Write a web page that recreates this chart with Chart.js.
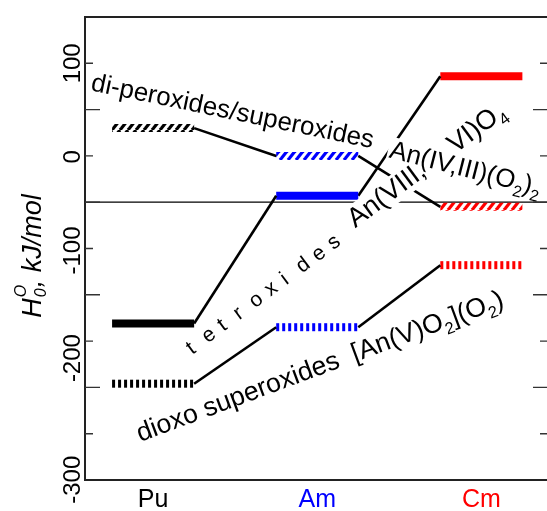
<!DOCTYPE html>
<html>
<head>
<meta charset="utf-8">
<script src="https://cdn.jsdelivr.net/npm/chart.js@4.4.0/dist/chart.umd.min.js"></script>
<style>
  html, body { margin: 0; padding: 0; background: #fff; }
</style>
</head>
<body>
<canvas id="levels" width="547" height="511"></canvas>
<script>
// ----- values (kJ/mol) -----
const elements = ['Pu', 'Am', 'Cm'];
const elementColors = ['#000000', '#0000ff', '#ff0000'];
const diPeroxides = [30, 0, -55];
const tetroxides = [-181, -43, 86];
const dioxoSuperoxides = [-246, -185, -118];
const yTickLabels = [100, 0, -100, -200, -300];
const referenceLevel = -50;

const FONT = '"Liberation Sans", Arial, Helvetica, sans-serif';
const HALF = 0.25; // half width of a level bar, in category units
// the original labels drift downwards from their ticks (px)
const labelNudge = [0, 1, 2, 17, 46];

// diagonal hatch used for the di-peroxide levels
function hatch(color) {
  const c = document.createElement('canvas');
  c.width = 8; c.height = 10;
  const g = c.getContext('2d');
  g.strokeStyle = color;
  g.lineWidth = 3.2;
  for (let k = -1; k <= 1; k++) {
    g.beginPath();
    g.moveTo(k * 8, 10);
    g.lineTo(k * 8 + 8, 0);
    g.stroke();
  }
  return g.createPattern(c, 'repeat');
}

const families = [
  { values: diPeroxides, style: 'hatch', width: 8 },
  { values: tetroxides, style: 'solid', width: 8 },
  { values: dioxoSuperoxides, style: 'dash', width: 8 },
];

const datasets = [];
families.forEach(f => {
  f.values.forEach((v, i) => {
    datasets.push({
      data: [{ x: i - HALF, y: v }, { x: i + HALF, y: v }],
      borderColor: f.style === 'hatch' ? hatch(elementColors[i]) : elementColors[i],
      borderDash: f.style === 'dash' ? [3, 3] : [],
      borderWidth: f.width,
      borderCapStyle: 'butt',
      pointRadius: 0,
    });
    if (i < f.values.length - 1) {
      datasets.push({
        data: [{ x: i + HALF, y: v }, { x: i + 1 - HALF, y: f.values[i + 1] }],
        borderColor: '#000',
        borderWidth: 2.6,
        borderCapStyle: 'butt',
        pointRadius: 0,
      });
    }
  });
});

// rotated labels along the lines: from/to are baseline ends in data units.
// with a fixed size, the slack goes into the part marked 'gap'
const notes = [
  { parts: [['di-peroxides/superoxides']], from: [-0.384, 70.9], to: [1.335, 8.3] },
  { parts: [['An(VIII,'], [' ', 'gap'], ['VI)O'], ['4', 'sub']], size: 27, from: [1.232, -78], to: [2.159, 44], knockout: true },
  { parts: [['An(IV,III)(O'], ['2', 'sub'], [')'], ['2', 'sub']], from: [1.433, -1.4], to: [2.35, -43], knockout: true },
  { spaced: 'tetroxides', size: 21, from: [0.238, -215.1], to: [1.098, -101.9] },
  { parts: [['dioxo superoxides  [An(V)O'], ['2', 'sub'], ['](O'], ['2', 'sub'], [')']], from: [-0.079, -308.9], to: [2.146, -162.2] },
];

function partsWidth(ctx, parts, size) {
  let w = 0;
  parts.forEach(([t, k]) => {
    ctx.font = (k === 'sub' ? size * 0.62 : size) + 'px ' + FONT;
    w += ctx.measureText(t).width;
  });
  return w;
}

function drawParts(ctx, parts, size, slack) {
  let x = 0;
  parts.forEach(([t, k]) => {
    const s = k === 'sub' ? size * 0.62 : size;
    ctx.font = s + 'px ' + FONT;
    const dy = k === 'sub' ? size * 0.25 : 0;
    ctx.fillText(t, x, dy);
    x += ctx.measureText(t).width + (k === 'gap' ? slack : 0);
  });
}

function layoutNote(ctx, p) {
  const n = p.n;
  if (n.size) {
    const w = partsWidth(ctx, n.parts, n.size);
    return { size: n.size, slack: Math.max(0, p.len - w) };
  }
  return { size: 24 * p.len / partsWidth(ctx, n.parts, 24), slack: 0 };
}

const decor = {
  id: 'decor',
  beforeDatasetsDraw(chart) {
    const { ctx, chartArea: a, scales: { y } } = chart;
    const py = y.getPixelForValue(referenceLevel);
    ctx.save();
    ctx.strokeStyle = '#000';
    ctx.lineWidth = 1.2;
    ctx.beginPath();
    ctx.moveTo(a.left, py);
    ctx.lineTo(a.right, py);
    ctx.stroke();
    ctx.restore();
  },
  afterDatasetsDraw(chart) {
    const { ctx, chartArea: a, scales: { x, y } } = chart;
    ctx.save();
    ctx.fillStyle = '#000';
    ctx.textBaseline = 'alphabetic';
    ctx.textAlign = 'left';

    const placed = notes.map(n => {
      const x0 = x.getPixelForValue(n.from[0]), y0 = y.getPixelForValue(n.from[1]);
      const x1 = x.getPixelForValue(n.to[0]), y1 = y.getPixelForValue(n.to[1]);
      return { n, x0, y0, len: Math.hypot(x1 - x0, y1 - y0), ang: Math.atan2(y1 - y0, x1 - x0) };
    });

    // white boxes that cut the lines under the formula labels
    placed.forEach(p => {
      if (!p.n.knockout) return;
      const { size } = layoutNote(ctx, p);
      ctx.save();
      ctx.translate(p.x0, p.y0);
      ctx.rotate(p.ang);
      ctx.fillStyle = '#fff';
      ctx.fillRect(-2, -size * 0.8, p.len + 4, size * 1.0);
      ctx.restore();
    });

    placed.forEach(p => {
      ctx.save();
      ctx.translate(p.x0, p.y0);
      ctx.rotate(p.ang);
      ctx.fillStyle = '#000';
      if (p.n.spaced) {
        const chars = p.n.spaced.split('');
        ctx.font = p.n.size + 'px ' + FONT;
        const step = p.len / (chars.length - 1);
        chars.forEach((c, i) => ctx.fillText(c, i * step, 0));
      } else {
        const { size, slack } = layoutNote(ctx, p);
        drawParts(ctx, p.n.parts, size, slack);
      }
      ctx.restore();
    });

    // frame (right spine falls off the canvas)
    ctx.strokeStyle = '#222';
    ctx.lineWidth = 2;
    ctx.beginPath();
    ctx.moveTo(a.right + 1, a.top);
    ctx.lineTo(a.left, a.top);
    ctx.lineTo(a.left, a.bottom);
    ctx.lineTo(a.right + 1, a.bottom);
    ctx.stroke();

    // inward ticks on both sides, long at the 50s, short at the 100s
    ctx.strokeStyle = '#333';
    ctx.lineWidth = 1.4;
    y.ticks.forEach(t => {
      if (t.value <= y.min || t.value >= y.max) return;
      const py = y.getPixelForValue(t.value);
      const major = yTickLabels.includes(t.value);
      const lenL = major ? 8 : 15, lenR = major ? 7 : 14;
      ctx.beginPath();
      ctx.moveTo(a.left, py); ctx.lineTo(a.left + lenL, py);
      ctx.moveTo(a.right, py); ctx.lineTo(a.right - lenR, py);
      ctx.stroke();
    });

    // y tick labels, rotated
    ctx.fillStyle = '#000';
    ctx.font = '24px ' + FONT;
    ctx.textAlign = 'center';
    ctx.textBaseline = 'middle';
    yTickLabels.forEach((v, i) => {
      ctx.save();
      ctx.translate(72, y.getPixelForValue(v) + labelNudge[i]);
      ctx.rotate(-Math.PI / 2);
      ctx.fillText(String(v), 0, 1);
      ctx.restore();
    });

    // axis title: H with stacked o / 0, then units
    ctx.save();
    ctx.translate(41, 0);
    ctx.rotate(-Math.PI / 2);
    ctx.textAlign = 'left';
    ctx.textBaseline = 'alphabetic';
    const it = s => 'italic ' + s + 'px ' + FONT;
    ctx.font = it(27);
    const wH = ctx.measureText('H').width;
    ctx.font = it(16);
    const wS = ctx.measureText('0').width;
    ctx.font = it(27);
    const wU = ctx.measureText(', kJ/mol').width;
    const total = wH + wS + 2 + wU;
    let tx = -(256 + total / 2);
    ctx.font = it(27);
    ctx.fillText('H', tx, 0);
    tx += wH + 1;
    ctx.font = it(16);
    ctx.fillText('O', tx, -15);
    ctx.fillText('0', tx, 5);
    tx += wS + 1;
    ctx.font = it(27);
    ctx.fillText(', kJ/mol', tx, 0);
    ctx.restore();

    ctx.restore();
  }
};

new Chart(document.getElementById('levels'), {
  type: 'line',
  data: { datasets },
  options: {
    responsive: false,
    animation: false,
    devicePixelRatio: 1,
    layout: { padding: { top: 17, right: 0, left: 0, bottom: 0 } },
    plugins: { legend: { display: false }, tooltip: { enabled: false } },
    scales: {
      x: {
        type: 'linear',
        min: -0.415,
        max: 2.4,
        afterBuildTicks: s => { s.ticks = elements.map((_, i) => ({ value: i })); },
        afterFit: s => { s.height = 31; },
        grid: { display: false },
        border: { display: false },
        ticks: {
          autoSkip: false,
          maxRotation: 0,
          padding: -3,
          font: { size: 25, family: FONT },
          color: c => elementColors[c.index],
          callback: v => elements[v],
        },
      },
      y: {
        type: 'linear',
        min: -350,
        max: 150,
        afterFit: s => { s.width = 85; },
        grid: { display: false },
        border: { display: false },
        ticks: { stepSize: 50, color: 'rgba(0,0,0,0)', callback: () => '' },
      },
    },
  },
  plugins: [decor],
});
</script>
</body>
</html>
